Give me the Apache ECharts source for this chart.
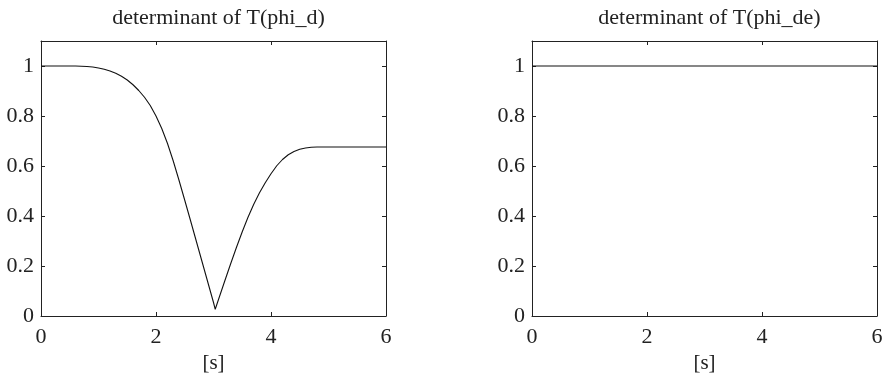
<!DOCTYPE html>
<html>
<head>
<meta charset="utf-8">
<script src="https://cdn.jsdelivr.net/npm/echarts@6/dist/echarts.min.js"></script>
<style>
html,body{margin:0;padding:0;background:#fff;}
#chart{width:889px;height:373px;}
</style>
</head>
<body>
<div id="chart"></div>
<script>
// ---- data ----
var titles = ['determinant of T(phi_d)', 'determinant of T(phi_de)'];
var xName = '[s]';
var timeD = [0.0,0.2,0.4,0.6,0.7,0.8,0.9,1.0,1.1,1.2,1.3,1.4,1.5,1.6,1.7,1.8,1.9,2.0,2.1,2.2,2.3,2.4,2.5,2.6,2.7,2.8,2.9,3.0,3.03,3.1,3.2,3.3,3.4,3.5,3.6,3.7,3.8,3.9,4.0,4.1,4.2,4.3,4.4,4.5,4.6,4.7,4.8,4.9,5.0,5.5,6.0];
var detD  = [1.000,1.000,1.000,1.000,0.999,0.998,0.996,0.992,0.987,0.980,0.971,0.959,0.944,0.925,0.902,0.875,0.842,0.800,0.750,0.690,0.620,0.543,0.463,0.382,0.300,0.218,0.136,0.054,0.027,0.075,0.143,0.210,0.275,0.337,0.395,0.447,0.493,0.533,0.569,0.601,0.626,0.645,0.658,0.667,0.672,0.675,0.676,0.676,0.676,0.676,0.676];
var timeDE = [0, 6];
var detDE  = [1.0, 1.0];

var FONT = 'Liberation Serif';
var AX = '#222';
var grids = [
  {left: 41, top: 41, width: 345, height: 275, outerBoundsMode: 'none', containLabel: false},
  {left: 532, top: 41, width: 345, height: 275, outerBoundsMode: 'none', containLabel: false}
];

function pairs(xs, ys){ return xs.map(function(x,i){ return [x, ys[i]]; }); }

var xAxes = [], yAxes = [];
grids.forEach(function(g, i){
  xAxes.push({
    type: 'value', gridIndex: i, min: 0, max: 6, interval: 2, position: 'bottom',
    name: xName, nameLocation: 'middle', nameGap: 27,
    nameTextStyle: {fontFamily: FONT, fontSize: 21, color: AX},
    axisLine: {show: true, onZero: false, lineStyle: {color: AX, width: 1}},
    axisTick: {show: true, inside: true, length: 4, lineStyle: {color: AX}},
    axisLabel: {fontFamily: FONT, fontSize: 22, color: AX, margin: 10},
    splitLine: {show: false}
  });
  xAxes.push({
    type: 'value', gridIndex: i, min: 0, max: 6, interval: 2, position: 'top',
    axisLine: {show: true, onZero: false, lineStyle: {color: AX, width: 1}},
    axisTick: {show: true, inside: true, length: 4, lineStyle: {color: AX}},
    axisLabel: {show: false}, splitLine: {show: false}
  });
  yAxes.push({
    type: 'value', gridIndex: i, min: 0, max: 1.1, interval: 0.2, position: 'left',
    axisLine: {show: true, onZero: false, lineStyle: {color: AX, width: 1}},
    axisTick: {show: true, inside: true, length: 4, lineStyle: {color: AX}},
    axisLabel: {fontFamily: FONT, fontSize: 22, color: AX, margin: 7,
      formatter: function(v){ return v > 1.05 ? '' : String(Math.round(v*10)/10); }},
    splitLine: {show: false}
  });
  yAxes.push({
    type: 'value', gridIndex: i, min: 0, max: 1.1, interval: 0.2, position: 'right',
    axisLine: {show: true, onZero: false, lineStyle: {color: AX, width: 1}},
    axisTick: {show: true, inside: true, length: 4, lineStyle: {color: AX}},
    axisLabel: {show: false}, splitLine: {show: false}
  });
});

var option = {
  backgroundColor: '#fff',
  animation: false,
  title: titles.map(function(t, i){
    return {
      text: t, left: grids[i].left + grids[i].width/2, top: 2, textAlign: 'center',
      textStyle: {fontFamily: FONT, fontSize: 22, fontWeight: 'normal', color: AX}
    };
  }),
  grid: grids,
  xAxis: xAxes,
  yAxis: yAxes,
  series: [
    {type: 'line', xAxisIndex: 0, yAxisIndex: 0, data: pairs(timeD, detD), showSymbol: false, smooth: false,
     lineStyle: {color: '#111', width: 1.1}},
    {type: 'line', xAxisIndex: 1, yAxisIndex: 1, data: [], showSymbol: false},
    {type: 'line', xAxisIndex: 2, yAxisIndex: 2, data: pairs(timeDE, detDE), showSymbol: false,
     lineStyle: {color: '#111', width: 1.1}},
    {type: 'line', xAxisIndex: 3, yAxisIndex: 3, data: [], showSymbol: false}
  ]
};
echarts.init(document.getElementById('chart')).setOption(option);
</script>
</body>
</html>
